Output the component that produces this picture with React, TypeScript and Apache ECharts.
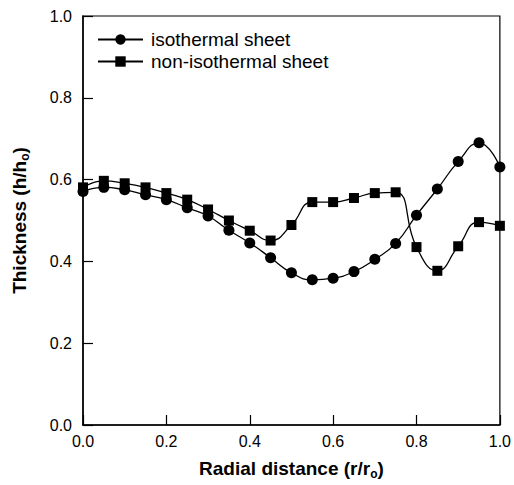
import React, { useEffect, useRef } from "react";
import * as echarts from "echarts";

const xValues = [0, 0.05, 0.1, 0.15, 0.2, 0.25, 0.3, 0.35, 0.4, 0.45, 0.5, 0.55, 0.6, 0.65, 0.7, 0.75, 0.8, 0.85, 0.9, 0.95, 1.0];
const isothermal = [0.571, 0.581, 0.575, 0.563, 0.551, 0.531, 0.511, 0.476, 0.445, 0.409, 0.372, 0.355, 0.359, 0.375, 0.405, 0.444, 0.513, 0.577, 0.644, 0.690, 0.631];
const nonIsothermal = [0.581, 0.597, 0.591, 0.581, 0.567, 0.551, 0.527, 0.500, 0.475, 0.451, 0.489, 0.545, 0.545, 0.555, 0.567, 0.569, 0.435, 0.377, 0.437, 0.496, 0.487];
const seriesNames = ["isothermal sheet", "non-isothermal sheet"];

const FONT = "Liberation Sans, Arial, sans-serif";

export default function App() {
  const ref = useRef<HTMLDivElement>(null);
  useEffect(() => {
    if (!ref.current) return;
    const chart = echarts.init(ref.current, undefined, { renderer: "svg" });
    const rich = {
      a: { fontFamily: FONT, fontSize: 19, fontWeight: "bold", color: "#000" },
      b: { fontFamily: FONT, fontSize: 12, fontWeight: "bold", color: "#000", padding: [12, 0, 0, 0] },
    };
    chart.setOption({
      animation: false,
      backgroundColor: "#fff",
      grid: { left: 83, right: 13, top: 16, bottom: 52, show: true, borderColor: "#000", borderWidth: 1.2 },
      legend: {
        orient: "vertical",
        left: 92,
        top: 25,
        itemWidth: 45,
        itemHeight: 13,
        itemGap: 3,
        data: seriesNames,
        textStyle: { fontFamily: FONT, fontSize: 19, color: "#000", lineHeight: 19, padding: [0, 0, 0, 3] },
      },
      xAxis: {
        type: "value",
        min: 0,
        max: 1,
        interval: 0.2,
        name: "{a|Radial distance (r/r}{b|o}{a|)}",
        nameLocation: "middle",
        nameGap: 31,
        nameTextStyle: { rich },
        axisLine: { lineStyle: { color: "#000", width: 1.5 } },
        axisTick: { inside: true, length: 10, lineStyle: { color: "#000", width: 1.2 } },
        axisLabel: { fontFamily: FONT, fontSize: 16, color: "#000", margin: 8, formatter: (v: number) => v.toFixed(1) },
        splitLine: { show: false },
      },
      yAxis: {
        type: "value",
        min: 0,
        max: 1,
        interval: 0.2,
        name: "{a|Thickness (h/h}{b|o}{a|)}",
        nameLocation: "middle",
        nameGap: 52,
        nameTextStyle: { rich },
        axisLine: { lineStyle: { color: "#000", width: 1.5 } },
        axisTick: { inside: true, length: 10, lineStyle: { color: "#000", width: 1.2 } },
        axisLabel: { fontFamily: FONT, fontSize: 16, color: "#000", margin: 11, formatter: (v: number) => v.toFixed(1) },
        splitLine: { show: false },
      },
      series: [
        {
          name: seriesNames[0],
          type: "line",
          smooth: 0.5,
          symbol: "circle",
          symbolSize: 11,
          data: xValues.map((x, i) => [x, isothermal[i]]),
          lineStyle: { color: "#000", width: 1.3 },
          itemStyle: { color: "#000" },
        },
        {
          name: seriesNames[1],
          type: "line",
          smooth: 0.5,
          symbol: "rect",
          symbolSize: 10,
          data: xValues.map((x, i) => [x, nonIsothermal[i]]),
          lineStyle: { color: "#000", width: 1.3 },
          itemStyle: { color: "#000" },
        },
      ],
    });
    return () => chart.dispose();
  }, []);
  return <div ref={ref} style={{ width: 514, height: 485, position: "absolute", left: 0, top: 0 }} />;
}
